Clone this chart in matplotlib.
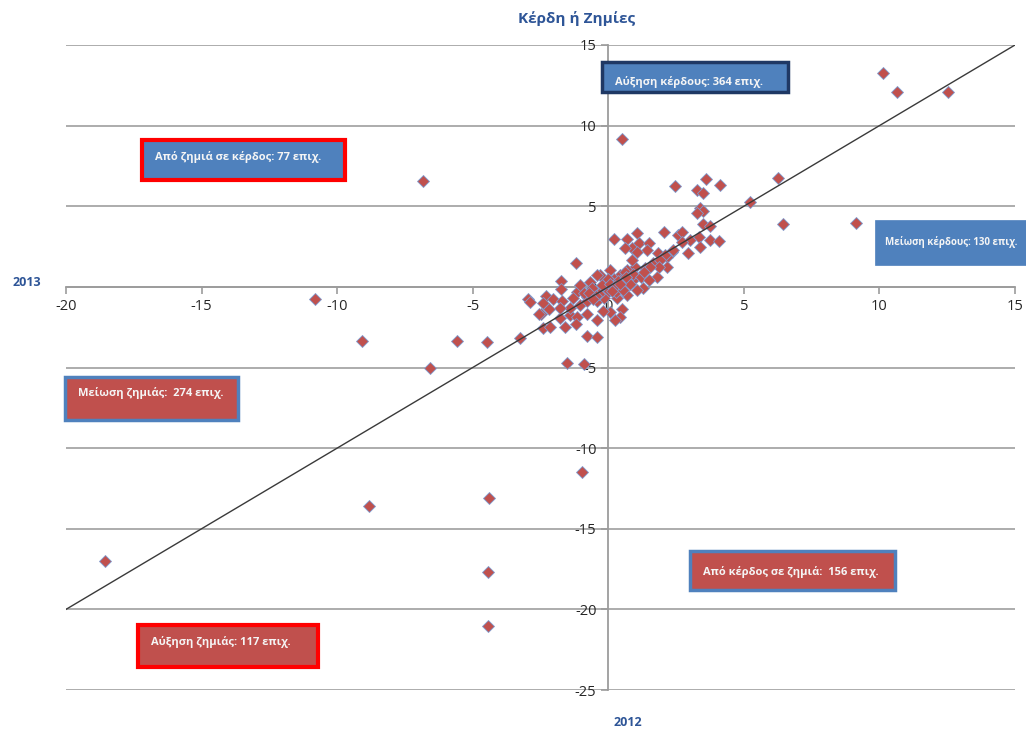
import matplotlib.pyplot as plt
from matplotlib.patches import Rectangle

plt.rcParams['font.family'] = ['Open Sans', 'DejaVu Sans']
plt.rcParams['axes.unicode_minus'] = False

# values: x = 2012, y = 2013
x2012 = [-18.55, -8.82, -4.39, -4.43, -4.43, -0.96, -10.8, -9.1, -5.57, -4.46,
         -6.57, -6.82, 0.52, 10.14, 10.66, 12.54, 9.15, 6.46, 6.27, 5.24,
         -3.25, -1.51, -0.89,
         2.47, 3.61, 4.13, 3.28, 3.5, 3.4, 3.5, 3.28, 3.5, 3.76,
         2.07, 2.58, 2.73, 3.76, 4.1, 3.36, 3.0, 3.39, 2.95, 1.07,
         0.22, 0.7, 1.14, 1.51, 1.44, 0.88, 2.36, 2.73, 1.84, 2.17,
         2.4, 2.1, 1.8, 1.29, 2.17, 1.66, 1.92, 1.36, 1.0, 0.7,
         0.88, 0.63, 1.07, 1.88, 1.55,
         -1.18, -1.73, -1.73, -2.95, -2.29, -2.03, -2.4, -1.7, -2.5, -2.4,
         -2.14, -1.59, -1.77, -1.4, -1.14, -0.77, -0.77, -0.41, -0.41, 0.07,
         0.52, 0.44, 0.26, -0.18, -1.03, -2.9, -2.55, -1.4, -1.77, -2.2, -1.2,
         0.07, -0.3, 0.26, 0.63, 0.92, 1.07, 0.7, 0.33, -0.3, -0.77,
         -1.14, -1.03, -0.66, -0.41, 0.44, -0.1, 0.1, -0.2, 0.2, 0.5,
         -0.5, -0.6, 0.4, 0.15, -0.05, 0.6, 0.9, -0.8, -0.4, -0.25,
         0.3, 0.8, 1.2, 1.3, 1.5, -0.9, -1.3, 0.0, -0.15, 0.55,
         0.35, -0.35, 0.05, -0.45, 0.25, -0.7, 0.65, 0.45, -0.55, 0.12]
y2013 = [-17.0, -13.6, -13.07, -17.7, -21.05, -11.5, -0.74, -3.35, -3.35, -3.4,
         -5.0, 6.56, 9.16, 13.25, 12.1, 12.07, 3.96, 3.9, 6.75, 5.26,
         -3.2, -4.7, -4.77,
         6.25, 6.7, 6.3, 6.0, 5.8, 4.9, 4.7, 4.56, 3.9, 3.78,
         3.4, 3.2, 3.4, 2.9, 2.85, 3.1, 2.9, 2.48, 2.1, 3.35,
         2.97, 3.0, 2.7, 2.7, 2.3, 2.4, 2.15, 2.8, 2.1, 1.85,
         2.29, 1.98, 0.62, -0.06, 1.24, 1.49, 1.67, 1.18, 1.24, 1.05,
         1.67, 2.41, 2.17, 1.24, 1.24,
         1.49, 0.37, -0.12, -0.74, -0.56, -0.74, -1.0, -0.87, -1.67, -2.54,
         -2.48, -2.48, -1.92, -1.73, -1.86, -1.67, -3.03, -3.1, -2.04, -1.55,
         -1.36, -1.86, -2.04, -1.49, -1.11, -0.93, -1.67, -1.3, -1.3, -1.4, -2.3,
         1.05, 0.74, 0.12, 0.25, 0.43, -0.19, -0.5, -0.68, -0.62, -0.62,
         -0.31, 0.12, 0.31, 0.74, 0.74, 0.3, -0.1, -0.2, 0.5, 0.5,
         -0.3, -0.1, 0.1, 0.25, -0.4, 0.9, 0.8, -0.9, -0.9, 0.1,
         -0.3, 0.2, 0.6, 0.9, 0.4, -0.4, -0.7, 0.5, -0.7, -0.2,
         0.35, -0.45, 0.15, -0.55, 0.05, -0.35, 0.6, 0.2, -0.75, -0.25]

x_ticks = [-20, -15, -10, -5, 0, 5, 10, 15]
y_ticks = [-25, -20, -15, -10, -5, 0, 5, 10, 15]

# (text, left, top, right, bottom, text y in pixels, fill, edge, edge width)
boxes = [
    ('Αύξηση κέρδους: 364 επιχ.', 602, 62, 788, 92, 82, '#4F81BD', '#1F3864', 2.5),
    ('Από ζημιά σε κέρδος: 77 επιχ.', 142, 140, 345, 180, 157, '#4F81BD', '#FF0000', 3),
    ('Μείωση κέρδους: 130 επιχ.', 875, 220, 1040, 265, 242, '#4F81BD', '#4F81BD', 0.5),
    ('Μείωση ζημιάς:  274 επιχ.', 65, 377, 238, 420, 393, '#C0504D', '#4F81BD', 2.5),
    ('Από κέρδος σε ζημιά:  156 επιχ.', 690, 551, 895, 590, 572, '#C0504D', '#4F81BD', 2.5),
    ('Αύξηση ζημιάς: 117 επιχ.', 138, 625, 318, 667, 642, '#C0504D', '#FF0000', 3),
]

W, H = 1026, 733
fig = plt.figure(figsize=(W / 100, H / 100), dpi=100)
ax = fig.add_axes([66 / W, 1 - 690 / H, (1015 - 66) / W, (690 - 45) / H])

ax.set_xlim(-20, 15)
ax.set_ylim(-25, 15)
ax.set_xticks(x_ticks)
ax.set_yticks(y_ticks)

ax.spines['left'].set_position(('data', 0))
ax.spines['bottom'].set_position(('data', 0))
ax.spines['top'].set_visible(False)
ax.spines['right'].set_visible(False)
for s in ['left', 'bottom']:
    ax.spines[s].set_color('#9C9C9C')
    ax.spines[s].set_linewidth(1.3)

ax.yaxis.grid(True, color='#A6A6A6', lw=1.3)
ax.set_axisbelow(True)
ax.tick_params(axis='both', colors='#9C9C9C', labelcolor='#262626', labelsize=10.5,
               direction='out', length=5, width=1.2)

ax.plot(x2012, y2013, ls='none', marker='D', markersize=6.5,
        markerfacecolor='#C0504D', markeredgecolor='#7E9BD0', markeredgewidth=0.6, zorder=3)
ax.plot([x_ticks[0], x_ticks[-1]], [x_ticks[0], x_ticks[-1]], color='#3A3A3A', lw=1.0, zorder=4)

for text, l, t, r, b, ty, fc, ec, lw in boxes:
    fig.patches.append(Rectangle((l / W, 1 - b / H), (r - l) / W, (b - t) / H,
                                 transform=fig.transFigure, facecolor=fc,
                                 edgecolor=ec, lw=lw, zorder=5))
    fs, dx = (7.0, 10) if r > W else (8, 13)
    fig.text((l + dx) / W, 1 - ty / H, text, color='#F5F5F5',
             fontsize=fs, fontweight='bold', va='center', ha='left', zorder=6)

fig.text(577 / W, 1 - 18 / H, 'Κέρδη ή Ζημίες', color='#2E5597', fontsize=11,
         fontweight='bold', ha='center', va='center')
fig.text(27 / W, 1 - 282 / H, '2013', color='#2E5597', fontsize=9,
         fontweight='bold', ha='center', va='center')
fig.text(628 / W, 1 - 722 / H, '2012', color='#2E5597', fontsize=9,
         fontweight='bold', ha='center', va='center')

fig.savefig('out.png', dpi=100)
